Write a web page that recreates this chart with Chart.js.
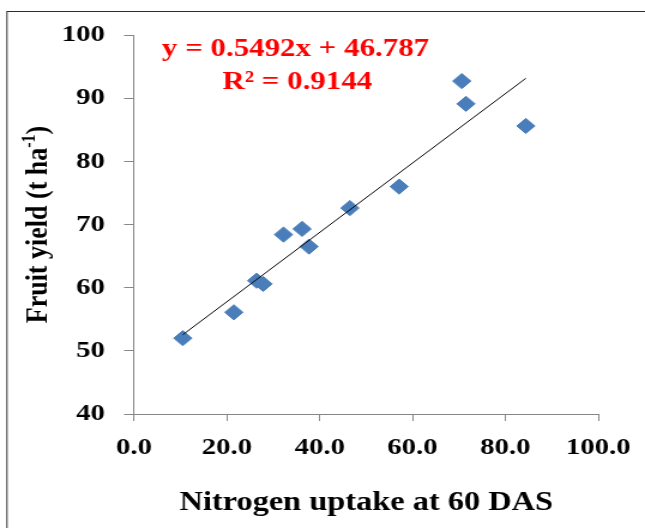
<!DOCTYPE html>
<html>
<head>
<meta charset="utf-8">
<script src="https://cdn.jsdelivr.net/npm/chart.js@4/dist/chart.umd.min.js"></script>
<style>
  html, body { margin: 0; padding: 0; background: #fff; overflow: hidden; }
  /* the chart is laid out on a narrower canvas and widened to the full window */
  #wrap { width: 538px; height: 528px; transform: scaleX(1.1989); transform-origin: 0 0; }
</style>
</head>
<body>
<div id="wrap"><canvas id="chart" width="538" height="528"></canvas></div>
<script>
// Nitrogen uptake at 60 DAS vs fruit yield
const nUptake    = [10.5, 21.5, 26.4, 27.8, 32.2, 36.2, 37.7, 46.5, 57.1, 70.6, 71.5, 84.4];
const fruitYield = [52.0, 56.1, 61.1, 60.6, 68.4, 69.3, 66.5, 72.6, 76.0, 92.7, 89.1, 85.6];

// linear fit reported on the chart
const slope = 0.5492;
const intercept = 46.787;
const rSquared = 0.9144;

const xTicks = [0, 20, 40, 60, 80, 100];
const yTicks = [40, 50, 60, 70, 80, 90, 100];

const xTitle = 'Nitrogen uptake at 60 DAS';
const yTitleMain = 'Fruit yield (t ha';
const yTitleSup = '-1';
const yTitleEnd = ')';

const points = nUptake.map((x, i) => ({ x, y: fruitYield[i] }));
const xMin = Math.min(...nUptake);
const xMax = Math.max(...nUptake);
const fitLine = [xMin, xMax].map(x => ({ x, y: slope * x + intercept }));

const SERIF = '"Liberation Serif", "Times New Roman", serif';
const AXIS_GREY = '#868686';

const decorations = {
  id: 'decorations',
  beforeDraw(chart) {
    const ctx = chart.ctx;
    ctx.save();
    ctx.strokeStyle = '#2b2b2b';
    ctx.lineWidth = 1;
    ctx.strokeRect(5.8, 11.5, 700, 700);
    ctx.restore();
  },
  afterDraw(chart) {
    const ctx = chart.ctx;
    const area = chart.chartArea;
    ctx.save();

    // regression equation
    ctx.fillStyle = '#ff0000';
    ctx.font = 'bold 25.8px ' + SERIF;
    ctx.textAlign = 'center';
    ctx.textBaseline = 'middle';
    ctx.fillText('y = ' + slope + 'x + ' + intercept, 246.5, 49);
    ctx.fillText('R² = ' + rSquared, 248, 82);

    // x axis title
    ctx.fillStyle = '#000';
    ctx.font = 'bold 27px ' + SERIF;
    ctx.fillText(xTitle, (area.left + area.right) / 2, 503);

    // y axis title with superscript
    const big = 'bold 26px ' + SERIF;
    const small = 'bold 16px ' + SERIF;
    ctx.font = big;
    const w1 = ctx.measureText(yTitleMain).width;
    const w3 = ctx.measureText(yTitleEnd).width;
    ctx.font = small;
    const w2 = ctx.measureText(yTitleSup).width;
    const total = w1 + w2 + w3;
    ctx.translate(29.5, (area.top + area.bottom) / 2);
    ctx.rotate(-Math.PI / 2);
    ctx.textAlign = 'left';
    ctx.textBaseline = 'alphabetic';
    let x = -total / 2;
    const base = 9;
    ctx.font = big;
    ctx.fillText(yTitleMain, x, base);
    x += w1;
    ctx.font = small;
    ctx.fillText(yTitleSup, x, base - 10);
    x += w2;
    ctx.font = big;
    ctx.fillText(yTitleEnd, x, base);
    ctx.restore();
  }
};

new Chart(document.getElementById('chart'), {
  type: 'scatter',
  data: {
    datasets: [
      {
        type: 'line',
        data: fitLine,
        borderColor: '#000',
        borderWidth: 1,
        pointRadius: 0,
        fill: false,
        order: 0
      },
      {
        data: points,
        pointStyle: 'rectRot',
        pointRadius: 7.6,
        pointHoverRadius: 7.6,
        backgroundColor: '#4a7ebb',
        borderColor: '#4a7ebb',
        borderWidth: 1,
        order: 1
      }
    ]
  },
  plugins: [decorations],
  options: {
    responsive: false,
    animation: false,
    events: [],
    layout: { padding: { left: 0, top: 35, right: 35.1, bottom: 0 } },
    plugins: { legend: { display: false }, tooltip: { enabled: false } },
    scales: {
      x: {
        type: 'linear',
        min: 0,
        max: 100,
        afterBuildTicks: s => { s.ticks = xTicks.map(v => ({ value: v })); },
        afterFit: s => { s.height = 114; },
        border: { color: AXIS_GREY, width: 1 },
        grid: { drawOnChartArea: false, drawTicks: true, tickLength: 7, color: AXIS_GREY },
        ticks: {
          color: '#000',
          padding: 12,
          font: { family: SERIF, size: 24, weight: 'bold' },
          callback: v => Number(v).toFixed(1)
        }
      },
      y: {
        type: 'linear',
        min: 40,
        max: 100,
        afterBuildTicks: s => { s.ticks = yTicks.map(v => ({ value: v })); },
        afterFit: s => { s.width = 111.8; },
        border: { color: AXIS_GREY, width: 1 },
        grid: { drawOnChartArea: false, drawTicks: true, tickLength: 8.3, color: AXIS_GREY },
        ticks: {
          color: '#000',
          padding: 16,
          font: { family: SERIF, size: 24, weight: 'bold' }
        }
      }
    }
  }
});
</script>
</body>
</html>
